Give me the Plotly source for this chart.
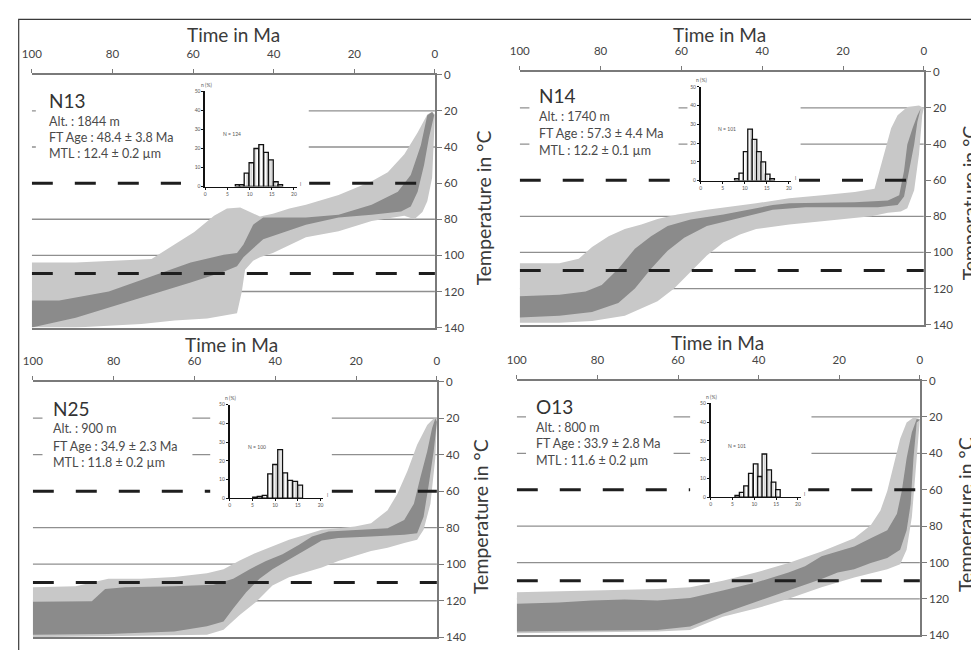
import plotly.graph_objects as go

W, H = 979, 650
OFF = 8  # browser page margin: figure pixels are shifted by this amount on screen

# ---------------- data ----------------
samples = ["N13", "N14", "N25", "O13"]
altitudes = ["1844 m", "1740 m", "900 m", "800 m"]
ft_ages = ["48.4 ± 3.8 Ma", "57.3 ± 4.4 Ma", "34.9 ± 2.3 Ma", "33.9 ± 2.8 Ma"]
mtls = ["12.4 ± 0.2 µm", "12.2 ± 0.1 µm", "11.8 ± 0.2 µm", "11.6 ± 0.2 µm"]
n_tracks = [124, 101, 100, 101]

time_ticks = [100, 80, 60, 40, 20, 0]
temp_ticks = [0, 20, 40, 60, 80, 100, 120, 140]
grid_temps = [80, 100, 120]
partial_grid_temps = [20, 40]
paz_limits = [60, 110]

# envelopes: (time Ma, temperature degC)
N13_light_top = [(100, 104), (89.1, 104), (70.3, 102), (64.6, 94), (59.7, 87), (54.8, 78), (51.6, 74),
                 (48.3, 73.5), (45.1, 77), (43.4, 78.5), (40.2, 77), (36.1, 74), (32.0, 72), (23.9, 66.5),
                 (15.7, 59), (11.7, 54), (7.6, 44), (4.3, 32), (1.9, 22), (0.7, 20.5)]
N13_light_bot = [(100, 140), (89.1, 140), (72.8, 138), (64.6, 136), (56.5, 135), (49.1, 132), (47.9, 120),
                 (47.1, 108), (45.1, 103), (43.4, 101), (40.2, 98.7), (32.0, 90), (23.9, 86.7), (15.7, 81),
                 (7.6, 78), (5.1, 80), (3.1, 76), (1.9, 70), (0.7, 57), (0, 22)]
N13_dark_top = [(100, 125), (93.2, 125), (80.9, 120), (70.3, 111.5), (60.6, 104), (52.4, 99.6), (49.1, 98.7),
                (47.5, 94), (45.1, 83), (42.6, 79), (32.0, 79), (23.9, 77.5), (15.7, 72), (9.2, 64.7),
                (6.0, 55.5), (3.5, 39), (1.9, 22.4), (0.7, 20.6)]
N13_dark_bot = [(100, 140), (89.1, 134.5), (80.9, 129), (70.3, 121.6), (60.6, 115), (52.4, 109), (49.1, 106),
                (47.5, 101), (45.1, 96), (42.6, 91), (32.0, 83), (23.9, 79), (15.7, 77.5), (8.4, 75.7),
                (6.0, 73), (4.3, 64.7), (2.7, 50), (1.5, 35), (0.2, 22.4)]

N14_light_top = [(100, 106), (90.2, 106), (85.4, 103.5), (82.1, 97), (78.0, 91), (74.0, 87), (69.9, 84.5),
                 (65.9, 81.5), (61.0, 79), (53.7, 76.4), (41.5, 72.8), (33.3, 70), (25.2, 68.3), (17.1, 66.5),
                 (12.2, 64.7), (11.0, 54.7), (9.8, 43.9), (8.1, 31.3), (6.5, 24), (4.1, 19.5), (1.2, 18.6)]
N14_light_bot = [(100, 139), (90.2, 139), (82.1, 138), (74.0, 135), (65.9, 127), (61.8, 120), (57.7, 110.7),
                 (53.7, 101.7), (49.6, 94.5), (45.5, 90), (41.5, 87), (33.3, 84.5), (25.2, 82.7), (17.1, 81),
                 (13.0, 80), (8.9, 78), (5.7, 77.3), (4.1, 75.5), (2.4, 65.6), (1.2, 45.7), (0.4, 24), (0, 20)]
N14_dark_top = [(100, 124.3), (90.2, 123.4), (83.7, 121.6), (79.7, 118), (75.6, 109), (71.5, 98), (67.5, 91),
                (63.4, 85.4), (57.7, 81.8), (49.6, 79), (41.5, 75.5), (37.4, 73.7), (33.3, 72.8), (25.2, 72.4),
                (17.1, 72.2), (8.9, 71.3), (6.1, 68.3), (4.9, 54.7), (4.1, 40.3), (2.8, 31.2), (1.6, 24),
                (0.8, 20.4)]
N14_dark_bot = [(100, 136), (90.2, 135), (82.1, 133), (75.6, 128), (71.5, 120), (67.5, 109), (63.4, 99),
                (59.3, 91.8), (53.7, 85.4), (45.5, 81), (37.4, 76.4), (29.3, 75), (21.1, 75), (11.4, 75),
                (6.5, 73.7), (4.9, 69), (3.7, 54.7), (2.4, 40.3), (1.6, 27.6), (0.8, 20.4)]

N25_light_top = [(100, 112.6), (89.4, 112), (81.3, 108), (73.2, 108), (65.0, 107), (56.9, 105), (52.8, 102.7),
                 (48.8, 98), (44.7, 93.7), (40.7, 90), (36.6, 86.6), (32.5, 83.9), (28.5, 81.2), (24.4, 80.3),
                 (20.3, 79.4), (16.3, 77.6), (12.2, 70.4), (9.8, 61.5), (7.3, 49), (4.9, 34.6), (2.4, 23.8),
                 (0.8, 20.3)]
N25_light_bot = [(100, 140), (81.3, 139.5), (56.9, 138.6), (52.8, 135.9), (48.8, 127.8), (44.7, 120.6),
                 (40.7, 111.7), (36.6, 107.2), (32.5, 104.5), (28.5, 101.8), (24.4, 98.2), (20.3, 95.5),
                 (16.3, 92.8), (12.2, 91), (8.1, 88.4), (4.9, 86.6), (3.3, 81.2), (1.6, 66.9), (0.4, 41.8),
                 (0, 20.3)]
N25_dark_top = [(100, 120.6), (85.4, 120.3), (82.1, 113.5), (77.2, 112.6), (65.0, 112), (61.0, 111.7),
                (55.3, 111.3), (50.4, 108), (46.3, 102.7), (42.3, 98.2), (38.2, 94.6), (34.1, 89.3),
                (30.9, 84.8), (26.8, 82.1), (20.3, 81.2), (12.2, 80.3), (8.1, 75.8), (5.7, 66.9), (4.1, 52.5),
                (2.4, 38.2), (1.2, 25.6), (0.4, 20.3)]
N25_dark_bot = [(100, 138.6), (81.3, 138.2), (65.0, 136.8), (56.9, 134), (52.8, 131.4), (50.4, 124.2),
                (47.2, 115.3), (43.9, 108), (40.7, 102.7), (36.6, 97.3), (32.5, 92), (28.5, 87), (24.4, 85.7),
                (16.3, 84.8), (8.1, 83.9), (4.9, 83), (3.3, 74), (2.0, 56.1), (0.8, 38.2), (0, 22)]

O13_light_top = [(100, 116.3), (81.4, 115.4), (65.1, 114.5), (57.0, 113.6), (48.9, 110), (40.7, 105.5),
                 (32.6, 100.2), (24.4, 93.9), (16.3, 86.7), (12.2, 79.5), (9.8, 71.4), (8.1, 60.7), (6.5, 46.3),
                 (4.9, 32), (3.3, 23), (1.6, 20.3)]
O13_light_bot = [(100, 138.8), (65.1, 137.9), (57.0, 137), (52.9, 133.4), (48.9, 129.8), (40.7, 125.3),
                 (32.6, 119.9), (24.4, 113.6), (16.3, 108.2), (8.1, 103.7), (4.9, 101), (3.3, 93), (2.0, 75),
                 (0.8, 42.7), (0, 21.2)]
O13_dark_top = [(100, 122.6), (89.6, 122), (81.4, 120.8), (73.3, 120.3), (65.1, 120.8), (57.0, 119.5),
                (48.9, 115.4), (40.7, 111), (32.6, 105.5), (28.5, 102), (24.4, 96.6), (16.3, 91.2), (12.2, 86.7),
                (8.1, 82.2), (5.7, 73.2), (4.5, 60.7), (3.3, 42.7), (2.0, 28.4), (0.8, 21.2)]
O13_dark_bot = [(100, 137.9), (65.1, 137), (57.0, 135.2), (52.9, 131.6), (48.9, 128), (40.7, 121.7),
                (32.6, 115.4), (24.4, 109.1), (20.4, 105.5), (16.3, 103.7), (12.2, 100.2), (8.1, 97.5),
                (4.9, 93), (3.3, 82.2), (2.3, 67.9), (1.6, 42.7), (0.8, 23), (0, 21.5)]

# track length histograms: bin centre (µm) and frequency (%)
N13_len = [7.3, 8.2, 9.3, 10.4, 11.5, 12.6, 13.7, 14.8, 15.9, 16.9]
N13_pct = [1, 1, 7, 12.5, 20, 22, 18, 14, 2.5, 1]
N14_len = [8.2, 9.2, 10.2, 11.2, 12.2, 13.2, 14.2, 15.2, 16.2]
N14_pct = [1, 4, 15.5, 27.5, 22, 15.5, 10, 3.5, 1]
N25_len = [5.6, 6.6, 7.7, 8.9, 10.0, 11.1, 12.2, 13.3, 14.4, 15.5]
N25_pct = [0.5, 1, 1.5, 13, 18, 26, 13.5, 9.5, 9, 7]
O13_len = [6.1, 7.1, 8.1, 9.2, 10.3, 11.3, 12.3, 13.4, 14.4, 15.4]
O13_pct = [1, 2.5, 6, 12.7, 17.7, 11, 23, 14.5, 8, 4]

bands = {
    "N13": (N13_light_top, N13_light_bot, N13_dark_top, N13_dark_bot),
    "N14": (N14_light_top, N14_light_bot, N14_dark_top, N14_dark_bot),
    "N25": (N25_light_top, N25_light_bot, N25_dark_top, N25_dark_bot),
    "O13": (O13_light_top, O13_light_bot, O13_dark_top, O13_dark_bot),
}
hists = {"N13": (N13_len, N13_pct), "N14": (N14_len, N14_pct),
         "N25": (N25_len, N25_pct), "O13": (O13_len, O13_pct)}

# ---------------- layout geometry (screen pixels) ----------------
panel_px = [(22, 431, 69, 327), (517, 927, 66, 324), (23, 433, 382, 643), (514, 923, 381, 641)]
inset_px = [(198, 288, 183, 86), (700.7, 790, 177, 81.3), (222.7, 315, 501, 405.7), (710.7, 799.3, 500, 404.3)]
grid_segments = [[(100, 99), (31.3, 0)], [(100, 97.6), (60.7, 58.5), (30.5, 0)],
                 [(100, 97.6), (60.5, 56.1), (26, 0)], [(100, 97.7), (61.1, 57), (26.9, 0)]]
dash60_segments = [[(100, 63), (31.2, 0)], [(100, 62.6), (30.9, 0)],
                   [(100, 56.1), (26, 0)], [(100, 57), (27.7, 0)]]
text_px = [(39, 95, [116, 132, 148]), (537, 90, [111, 128, 145]),
           (43, 410, [429, 447, 464]), (533, 407, [428, 444, 462])]
time_title_px = [(227, 28), (720, 28), (225, 344), (718, 342)]
temp_title_px = [(480, 205), (973, 200), (477, 520), (970, 518)]

FONT = "Lato"
LIGHT = "#c8c8c8"
DARK = "#8b8b8b"
AXC = "#7a7a7a"
TXT = "#444444"


def px(x):
    return (x - OFF) / W


def py(y):
    return 1 - (y - OFF) / H


fig = go.Figure()
shapes = []
annotations = []
layout = {}

for i, name in enumerate(samples):
    k = i + 1
    xa = "x" if k == 1 else f"x{k}"
    ya = "y" if k == 1 else f"y{k}"
    l, r, t, b = panel_px[i]
    lt, lb, dt, db = bands[name]
    for top, bot, col in ((lt, lb, LIGHT), (dt, db, DARK)):
        xs = [p[0] for p in top] + [p[0] for p in reversed(bot)]
        ys = [p[1] for p in top] + [p[1] for p in reversed(bot)]
        fig.add_trace(go.Scatter(x=xs, y=ys, fill="toself", fillcolor=col, mode="lines",
                                 line=dict(width=0, color=col), xaxis=xa, yaxis=ya,
                                 hoverinfo="skip", showlegend=False))
    layout["xaxis" if k == 1 else f"xaxis{k}"] = dict(
        domain=[px(l), px(r)], range=[100, 0], side="top", anchor=ya,
        tickvals=time_ticks, ticks="outside", ticklen=4, tickcolor=AXC,
        showline=True, linecolor=AXC, linewidth=1.6, mirror=True,
        showgrid=False, zeroline=False, ticklabelstandoff=6,
        tickfont=dict(family=FONT, size=11.5, color=TXT))
    layout["yaxis" if k == 1 else f"yaxis{k}"] = dict(
        domain=[py(b), py(t)], range=[140, 0], side="right", anchor=xa,
        tickvals=temp_ticks, ticks="outside", ticklen=5, tickcolor=AXC,
        showline=True, linecolor=AXC, linewidth=1.6,
        showgrid=False, zeroline=False,
        tickfont=dict(family=FONT, size=11.5, color=TXT))
    for T in grid_temps:
        shapes.append(dict(type="line", xref=xa, yref=ya, x0=100, x1=0, y0=T, y1=T,
                           line=dict(color="#8f8f8f", width=1.3), layer="below"))
    for T in partial_grid_temps:
        for s0, s1 in grid_segments[i]:
            shapes.append(dict(type="line", xref=xa, yref=ya, x0=s0, x1=s1, y0=T, y1=T,
                               line=dict(color="#8f8f8f", width=1.3), layer="below"))
    for s0, s1 in dash60_segments[i]:
        shapes.append(dict(type="line", xref=xa, yref=ya, x0=s0, x1=s1, y0=paz_limits[0], y1=paz_limits[0],
                           line=dict(color="#1e1e1e", width=3, dash="21px,22px"), layer="above"))
    shapes.append(dict(type="line", xref=xa, yref=ya, x0=100, x1=0, y0=paz_limits[1], y1=paz_limits[1],
                       line=dict(color="#1e1e1e", width=3, dash="21px,22px"), layer="above"))

    tx, ny, rows = text_px[i]
    annotations.append(dict(text=name, x=px(tx - 2), y=py(ny), xref="paper", yref="paper",
                            xanchor="left", yanchor="middle", showarrow=False,
                            font=dict(family=FONT, size=19, color="#333333")))
    for txt, yy in zip([f"Alt. : {altitudes[i]}", f"FT Age : {ft_ages[i]}", f"MTL : {mtls[i]}"], rows):
        annotations.append(dict(text=txt, x=px(tx - 2), y=py(yy + 1), xref="paper", yref="paper",
                                xanchor="left", yanchor="middle", showarrow=False,
                                font=dict(family=FONT, size=12.5, color="#4a4a4a")))
    ttx, tty = time_title_px[i]
    annotations.append(dict(text="Time in Ma", x=px(ttx), y=py(tty), xref="paper", yref="paper",
                            xanchor="center", yanchor="middle", showarrow=False,
                            font=dict(family=FONT, size=19, color="#3a3a3a")))
    tpx, tpy = temp_title_px[i]
    annotations.append(dict(text="Temperature in °C", x=px(tpx), y=py(tpy), xref="paper", yref="paper",
                            xanchor="center", yanchor="middle", showarrow=False, textangle=-90,
                            font=dict(family=FONT, size=19.5, color="#3a3a3a")))

for i, name in enumerate(samples):
    k = i + 5
    xa, ya = f"x{k}", f"y{k}"
    x0, x20, y0, y50 = inset_px[i]
    lens, pcts = hists[name]
    fig.add_trace(go.Bar(x=lens, y=pcts, width=1.05, xaxis=xa, yaxis=ya, showlegend=False,
                         hoverinfo="skip",
                         marker=dict(color="white", line=dict(color="#111111", width=1.3),
                                     pattern=dict(shape="|", fgcolor="#8a8a8a", bgcolor="white",
                                                  size=4, solidity=0.35))))
    xr = 20.6
    layout[f"xaxis{k}"] = dict(domain=[px(x0), px(x0 + xr * (x20 - x0) / 20)], range=[0, xr], anchor=ya,
                               tickvals=[0, 5, 10, 15, 20], ticks="outside", ticklen=2, tickcolor="#111",
                               showline=True, linecolor="#111", linewidth=1.4, showgrid=False,
                               zeroline=False, tickfont=dict(family=FONT, size=5, color="#555"))
    layout[f"yaxis{k}"] = dict(domain=[py(y0), py(y50)], range=[0, 50], anchor=xa,
                               tickvals=[0, 10, 20, 30, 40, 50], ticks="outside", ticklen=2, tickcolor="#111",
                               showline=True, linecolor="#111", linewidth=1.6, showgrid=False,
                               zeroline=False, tickfont=dict(family=FONT, size=5, color="#555"))
    annotations.append(dict(text=f"N = {n_tracks[i]}", x=6, y=27.5, xref=xa, yref=ya, showarrow=False,
                            xanchor="center", yanchor="middle", font=dict(family=FONT, size=5, color="#555")))
    annotations.append(dict(text="n (%)", x=px(x0 + 1), y=py(y50 - 7), xref="paper", yref="paper",
                            showarrow=False, xanchor="center", yanchor="middle",
                            font=dict(family=FONT, size=5, color="#555")))
    annotations.append(dict(text="l", x=px(x0 + xr * (x20 - x0) / 20 + 4), y=py(y0 - 3), xref="paper",
                            yref="paper", showarrow=False, xanchor="center", yanchor="middle",
                            font=dict(family=FONT, size=5, color="#555")))

shapes.append(dict(type="rect", xref="paper", yref="paper", x0=px(8.7), x1=1.02, y0=-0.02, y1=py(12.5),
                   line=dict(color="#3a3a3a", width=1.2), layer="above"))

fig.update_layout(width=W, height=H, margin=dict(l=0, r=0, t=0, b=0),
                  paper_bgcolor="white", plot_bgcolor="white", showlegend=False,
                  shapes=shapes, annotations=annotations, **layout)

fig.write_html("out.html")
